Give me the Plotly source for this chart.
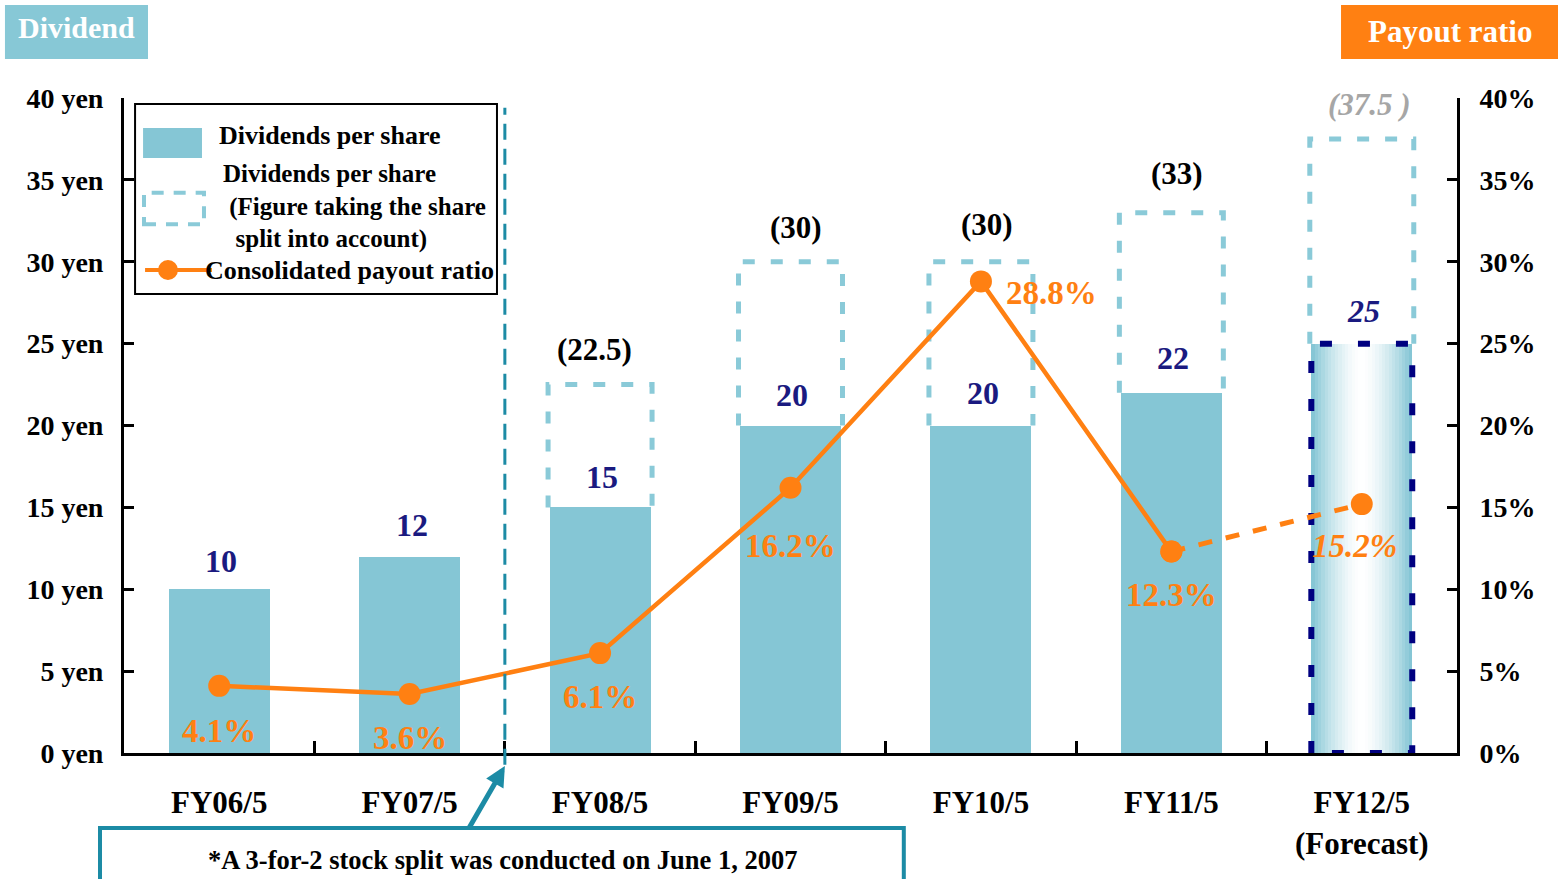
import plotly.graph_objects as go

# ---------------- data ----------------
categories = ["FY06/5", "FY07/5", "FY08/5", "FY09/5", "FY10/5", "FY11/5", "FY12/5<br>(Forecast)"]
dividends = [10, 12, 15, 20, 20, 22, 25]
adjusted = [None, None, 22.5, 30, 30, 33, 37.5]
adjusted_labels = [None, None, "(22.5)", "(30)", "(30)", "(33)", "(37.5 )"]
payout = [4.1, 3.6, 6.1, 16.2, 28.8, 12.3, 15.2]
y_ticks = [0, 5, 10, 15, 20, 25, 30, 35, 40]
yen_labels = [f"{v} yen" for v in y_ticks]
pct_labels = [f"{v}%" for v in y_ticks]

FONT = "Liberation Serif"
BLUE = "#85C6D5"
DASHBLUE = "#8ACAD8"
NAVY = "#1A1A80"
ORANGE = "#FF8012"
TEAL = "#1C8BA5"
BW = 0.53          # bar width
OW = 0.273         # half width of dashed outline

xs = list(range(len(categories)))
fig = go.Figure()

# actual bars
fig.add_trace(go.Bar(x=xs[:-1], y=dividends[:-1], width=BW, marker=dict(color=BLUE, line=dict(width=0)),
                     showlegend=False, hoverinfo="skip"))

# forecast bar with horizontal gradient (slices)
N = 30
gx, gw, gc, gy = [], [], [], []
b = (133, 198, 213)
for k in range(N):
    off = -BW / 2 + (k + 0.5) * BW / N
    t = abs(off) / (BW / 2)
    t = min(1, t ** 1.6 * 1.05)
    c = tuple(int(round(255 * (1 - t) + b[j] * t)) for j in range(3))
    gx.append(xs[-1] + off)
    gw.append(BW / N + 0.001)
    gc.append(f"rgb{c}")
    gy.append(dividends[-1])
fig.add_trace(go.Bar(x=gx, y=gy, width=gw, marker=dict(color=gc, line=dict(width=0)),
                     showlegend=False, hoverinfo="skip"))

# dashed outlines of split-adjusted figures
ox, oy = [], []
for i, a in enumerate(adjusted):
    if a is None:
        continue
    ox += [i - OW, i - OW, i + OW, i + OW, None]
    oy += [dividends[i], a, a, dividends[i], None]
fig.add_trace(go.Scatter(x=ox, y=oy, mode="lines", line=dict(color=DASHBLUE, width=5, dash="12px,16px"),
                         showlegend=False, hoverinfo="skip", connectgaps=False))

# navy dashed outline around forecast bar
i6 = xs[-1]
fig.add_trace(go.Scatter(x=[i6 - BW / 2, i6 - BW / 2, i6 + BW / 2, i6 + BW / 2, i6 - BW / 2],
                         y=[0, dividends[-1], dividends[-1], 0, 0], mode="lines",
                         line=dict(color="#000080", width=6, dash="12px,26px"),
                         showlegend=False, hoverinfo="skip"))

# payout ratio line (secondary axis)
fig.add_trace(go.Scatter(x=xs[:-1], y=payout[:-1], yaxis="y2", mode="lines+markers",
                         line=dict(color=ORANGE, width=4.5), marker=dict(size=22, color=ORANGE),
                         showlegend=False, hoverinfo="skip"))
fig.add_trace(go.Scatter(x=xs[-2:], y=payout[-2:], yaxis="y2", mode="lines+markers",
                         line=dict(color=ORANGE, width=5, dash="14px,14px"), marker=dict(size=22, color=ORANGE),
                         showlegend=False, hoverinfo="skip"))

ann = []
shapes = []


def txt(x, y, text, size=26, color="black", xref="x", yref="y", italic=False, xanchor="center",
        yanchor="middle", weight="bold", align="center"):
    ann.append(dict(x=x, y=y, xref=xref, yref=yref, text=text, showarrow=False, xanchor=xanchor,
                    yanchor=yanchor, align=align,
                    font=dict(family=FONT, size=size, color=color, weight=weight,
                              style="italic" if italic else "normal")))


# value labels
val_y = [11.72, 13.92, 16.85, 21.86, 21.98, 24.12, 26.99]
for i, v in enumerate(dividends):
    txt(i + 0.01, val_y[i], str(v), size=32, color=NAVY, italic=(i == len(dividends) - 1))

# adjusted labels
adj_y = [None, None, 24.67, 32.12, 32.3, 35.4, 39.63]
for i, lab in enumerate(adjusted_labels):
    if lab is None:
        continue
    last = i == len(adjusted_labels) - 1
    txt(i + 0.04 if last else i - 0.03 if i == 2 else i + 0.03, adj_y[i], lab, size=31,
        color="#A6A6A6" if last else "black", italic=last)

# payout labels
pct_pos = [(0.0, 1.34), (1.0, 0.92), (2.0, 3.42), (3.0, 12.64), (4.37, 28.1), (5.0, 9.65), (5.96, 12.64)]
for i, p in enumerate(payout):
    x, y = pct_pos[i]
    txt(x, y, f"{p}%", size=33, color=ORANGE, yref="y2", italic=(i == len(payout) - 1))

# split divider
shapes.append(dict(type="line", xref="x", yref="paper", x0=1.5, x1=1.5, y0=-0.018, y1=0.985,
                   line=dict(color=TEAL, width=3, dash="16px,9px")))

# legend box
shapes.append(dict(type="rect", xref="paper", yref="paper", x0=0.0083, x1=0.2798, y0=0.7008, y1=0.9908,
                   line=dict(color="black", width=2), fillcolor="white", layer="above"))
shapes.append(dict(type="rect", xref="paper", yref="paper", x0=0.0143, x1=0.0585, y0=0.9084, y1=0.9542,
                   line=dict(width=0), fillcolor=BLUE, layer="above"))
shapes.append(dict(type="rect", xref="paper", yref="paper", x0=0.0150, x1=0.0600, y0=0.8071, y1=0.8555,
                   line=dict(color=DASHBLUE, width=4, dash="12px,10px"), fillcolor="rgba(0,0,0,0)", layer="above"))
shapes.append(dict(type="line", xref="paper", yref="paper", x0=0.0158, x1=0.0660, y0=0.7374, y1=0.7374,
                   line=dict(color=ORANGE, width=4), layer="above"))
shapes.append(dict(type="circle", xref="paper", yref="paper", x0=0.0330 - 0.0075, x1=0.0330 + 0.0075,
                   y0=0.7374 - 0.0153, y1=0.7374 + 0.0153, line=dict(width=0), fillcolor=ORANGE, layer="above"))
LS = 26
txt(0.0698, 0.942, "Dividends per share", size=LS, xref="paper", yref="paper", xanchor="left")
txt(0.0728, 0.8336, "Dividends per share<br> (Figure taking the share<br>  split into account)", size=25,
    xref="paper", yref="paper", xanchor="left", align="left")
txt(0.0590, 0.7374, "Consolidated payout ratio", size=LS, xref="paper", yref="paper", xanchor="left")

# header boxes
shapes.append(dict(type="rect", xref="paper", yref="paper", x0=-0.0893, x1=0.0180, y0=1.0595, y1=1.142,
                   line=dict(width=0), fillcolor="#87C8D6"))
txt(-0.0360, 1.108, "Dividend", size=30, color="white", xref="paper", yref="paper")
shapes.append(dict(type="rect", xref="paper", yref="paper", x0=0.9130, x1=1.0773, y0=1.0595, y1=1.142,
                   line=dict(width=0), fillcolor="#FF8012"))
txt(0.9947, 1.1008, "Payout ratio", size=31, color="white", xref="paper", yref="paper")

# footnote box + arrow
shapes.append(dict(type="rect", xref="paper", yref="paper", x0=-0.0180, x1=0.5850, y0=-0.1999, y1=-0.1145,
                   line=dict(color=TEAL, width=4), fillcolor="white"))
txt(0.2836, -0.163, "*A 3-for-2 stock split was conducted on June 1, 2007", size=26.5,
    xref="paper", yref="paper")
ann.append(dict(x=1.5, y=-0.02, xref="x", yref="paper", ax=-37, ay=64, text="", showarrow=True,
                arrowhead=2, arrowsize=0.8, arrowwidth=5, arrowcolor=TEAL))

fig.update_layout(
    width=1558, height=879,
    margin=dict(l=124, r=101, t=98, b=126),
    paper_bgcolor="white", plot_bgcolor="white",
    barmode="overlay", bargap=0,
    font=dict(family=FONT, color="black"),
    xaxis=dict(range=[-0.5, 6.5], tickvals=xs, ticktext=categories, ticks="",
               tickfont=dict(family=FONT, size=31, color="black", weight="bold"),
               showline=True, linecolor="black", linewidth=3, showgrid=False, zeroline=False,
               ticklabelstandoff=20,
               minor=dict(tickvals=[0.5, 1.5, 2.5, 3.5, 4.5, 5.5], ticks="inside", ticklen=12,
                          tickwidth=3, tickcolor="black", showgrid=False)),
    yaxis=dict(range=[0, 40], tickvals=y_ticks, ticktext=yen_labels, ticks="inside", ticklen=10,
               tickwidth=3, tickcolor="black", showline=True, linecolor="black", linewidth=3,
               showgrid=False, zeroline=False, ticklabelstandoff=12,
               tickfont=dict(family=FONT, size=28, color="black", weight="bold")),
    yaxis2=dict(range=[0, 40], overlaying="y", side="right", tickvals=y_ticks, ticktext=pct_labels,
                ticks="inside", ticklen=10, tickwidth=3, tickcolor="black", showline=True,
                linecolor="black", linewidth=3, showgrid=False, zeroline=False, ticklabelstandoff=14,
                tickfont=dict(family=FONT, size=28, color="black", weight="bold")),
    annotations=ann, shapes=shapes, showlegend=False,
)

fig.write_html("out.html")
